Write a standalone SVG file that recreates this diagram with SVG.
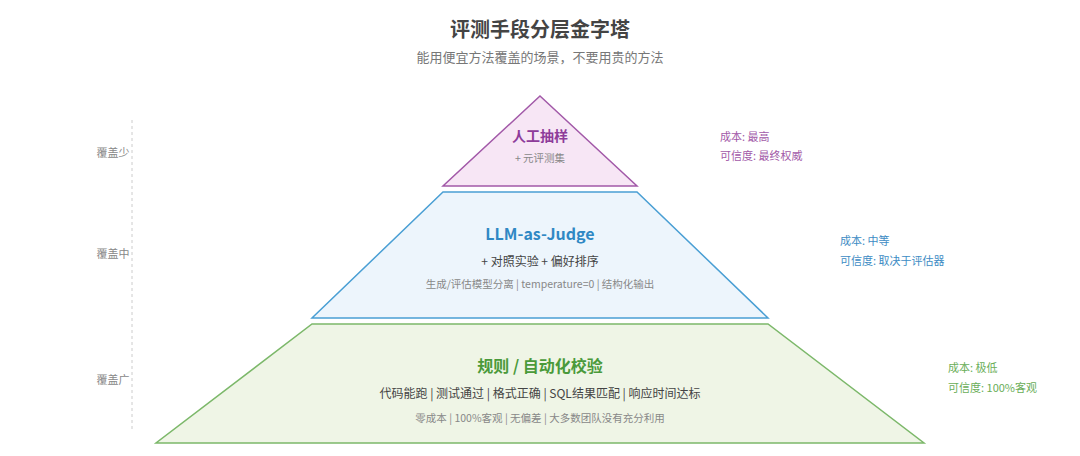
<svg xmlns="http://www.w3.org/2000/svg" width="1080" height="456" viewBox="0 0 1080 456">
<style>
text{font-family:"Noto Sans CJK SC","Noto Sans",sans-serif}
.c{text-anchor:middle}
.side{font-size:11px;fill:#888}
.sub{font-size:12px;fill:#444}
.small{font-size:10.5px;fill:#888}
</style>
<rect width="1080" height="456" fill="#fff"/>
<text x="540" y="37" class="c" font-size="20" font-weight="bold" fill="#444">评测手段分层金字塔</text>
<text x="540" y="62" class="c" font-size="13" fill="#777">能用便宜方法覆盖的场景，不要用贵的方法</text>
<g id="axis">
<line x1="132" y1="120" x2="132" y2="432" stroke="#ccc" stroke-dasharray="3,3"/>
<text x="113" y="157" class="c side">覆盖少</text>
<text x="113" y="258" class="c side">覆盖中</text>
<text x="113" y="384" class="c side">覆盖广</text>
</g>
<g id="top">
<polygon points="540,96 637,186 443,186" fill="#f7e6f5" stroke="#a259a8" stroke-width="1.5"/>
<text x="540" y="141" class="c" font-size="14" font-weight="bold" fill="#8e3b9a">人工抽样</text>
<text x="540" y="162" class="c small">+ 元评测集</text>
<text x="720" y="141" font-size="11" fill="#a259a8">成本: 最高</text>
<text x="720" y="160" font-size="11" fill="#a259a8">可信度: 最终权威</text>
</g>
<g id="mid">
<polygon points="443,192 637,192 768,318 312,318" fill="#edf5fc" stroke="#4a9fd4" stroke-width="1.5"/>
<text x="540" y="240" class="c" font-size="16" font-weight="bold" fill="#2f88c4">LLM-as-Judge</text>
<text x="540" y="266" class="c sub">+ 对照实验 + 偏好排序</text>
<text x="540" y="288" class="c small">生成/评估模型分离 | temperature=0 | 结构化输出</text>
<text x="840" y="245" font-size="11" fill="#3d8cc4">成本: 中等</text>
<text x="840" y="265" font-size="11" fill="#3d8cc4">可信度: 取决于评估器</text>
</g>
<g id="bottom">
<polygon points="312,324 768,324 924,443 156,443" fill="#eff5e6" stroke="#7cb86a" stroke-width="1.5"/>
<text x="540" y="372" class="c" font-size="16" font-weight="bold" fill="#4a9a3a">规则 / 自动化校验</text>
<text x="540" y="398" class="c sub">代码能跑 | 测试通过 | 格式正确 | SQL结果匹配 | 响应时间达标</text>
<text x="540" y="422" class="c small">零成本 | 100%客观 | 无偏差 | 大多数团队没有充分利用</text>
<text x="948" y="372" font-size="11" fill="#6aae58">成本: 极低</text>
<text x="948" y="392" font-size="11" fill="#6aae58">可信度: 100%客观</text>
</g>
</svg>
